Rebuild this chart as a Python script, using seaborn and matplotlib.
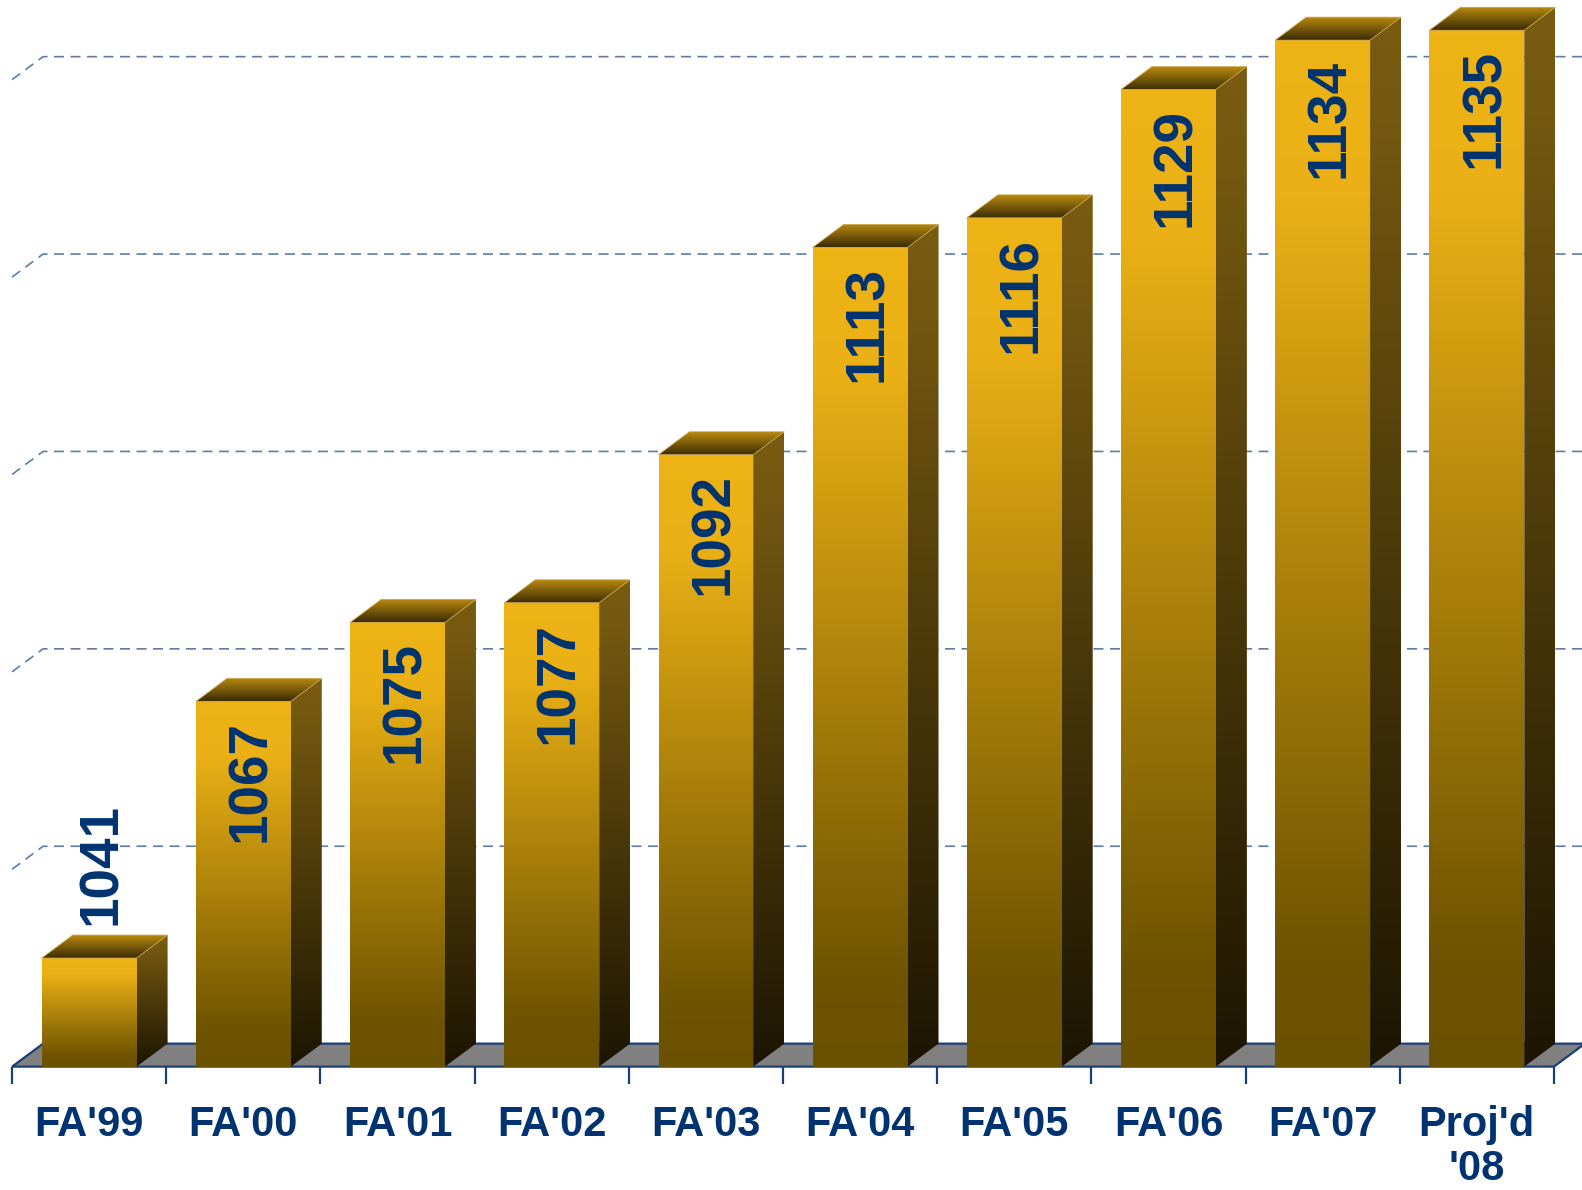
"""
Enrollment by fall term, drawn as pseudo-3D gold bars.
"""

import matplotlib.pyplot as plt
import numpy as np
import seaborn as sns
from matplotlib.colors import LinearSegmentedColormap
from matplotlib.patches import Polygon

categories = ["FA'99", "FA'00", "FA'01", "FA'02", "FA'03",
              "FA'04", "FA'05", "FA'06", "FA'07", "Proj'd\n'08"]
enrollment = [1041, 1067, 1075, 1077, 1092, 1113, 1116, 1129, 1134, 1135]
grid_values = [1050, 1070, 1090, 1110, 1130]
BASE = 1030

NAVY = "#003370"
AXIS_NAVY = "#1B3F78"
GRID = "#5F7CA8"
BAR_W = 0.615
DX, DY = 0.201, 2.33  # depth offset of the 3D box (x in categories, y in value units)

front_cmap = LinearSegmentedColormap.from_list(
    "front", [(0, "#6A5100"), (0.1, "#6E5300"), (0.85, "#EAB015"), (1, "#EEB416")])
side_cmap = LinearSegmentedColormap.from_list("side", [(0, "#1C1502"), (0.9, "#745810"), (1, "#795B10")])
top_cmap = LinearSegmentedColormap.from_list("top", ["#3B2C05", "#B8890F"])
ramp = np.linspace(0, 1, 256).reshape(-1, 1)


def gradient(ax, clip, x0, x1, y0, y1, cmap, z):
    im = ax.imshow(ramp, extent=[x0, x1, y0, y1], origin="lower", aspect="auto",
                   cmap=cmap, interpolation="bilinear", zorder=z)
    im.set_clip_path(clip)


sns.set_style("white")
plt.rcParams["font.family"] = ["Liberation Sans", "DejaVu Sans"]

fig = plt.figure(figsize=(15.82, 11.90), dpi=100)
ax = fig.add_axes([0, 0, 1, 1])

heights = np.array(enrollment) - BASE
sns.barplot(x=categories, y=heights, width=BAR_W, color="#6A5100", saturation=1,
            edgecolor="none", ax=ax, zorder=3)

# floor
n = len(categories)
floor = Polygon([(-0.5, 0), (n - 0.5, 0), (n - 0.5 + DX, DY), (-0.5 + DX, DY)],
                closed=True, facecolor="#808080", edgecolor=AXIS_NAVY, linewidth=1.6, zorder=1.5)
ax.add_patch(floor)
for k in range(n + 1):
    ax.plot([k - 0.5, k - 0.5], [0, -1.8], color=AXIS_NAVY, linewidth=1.6, zorder=2,
            solid_capstyle="butt")

# dashed gridlines on the back wall, with the short slanted piece on the left
for g in grid_values:
    y = g - BASE
    ax.plot([-0.5, -0.5 + DX, n - 0.5 + DX + 0.5], [y, y + DY, y + DY], color=GRID,
            linewidth=1.2, dashes=(6, 3.9), zorder=1)

# faces of each bar
for i, (bar, h) in enumerate(zip(ax.patches, heights)):
    x0 = bar.get_x()
    x1 = x0 + bar.get_width()
    gradient(ax, bar, x0, x1, 0, h, front_cmap, 3.1)

    side = Polygon([(x1, 0), (x1 + DX, DY), (x1 + DX, h + DY), (x1, h)], closed=True,
                   facecolor="none", edgecolor="none", zorder=3.2)
    ax.add_patch(side)
    gradient(ax, side, x1, x1 + DX, 0, h + DY, side_cmap, 3.1)

    top = Polygon([(x0, h), (x1, h), (x1 + DX, h + DY), (x0 + DX, h + DY)], closed=True,
                  facecolor="none", edgecolor="#C9A54A", linewidth=0.6, zorder=3.3)
    ax.add_patch(top)
    gradient(ax, top, x0, x1 + DX, h, h + DY, top_cmap, 3.1)

    if h < 15:
        ax.text(i + 0.08, h + DY + 1.0, str(enrollment[i]), rotation=90, ha="center",
                va="bottom", fontsize=39.5, fontweight="bold", color=NAVY, zorder=5)
    else:
        ax.text(i + 0.05, h - 1.9, str(enrollment[i]), rotation=90, ha="center",
                va="top", fontsize=39.5, fontweight="bold", color=NAVY, zorder=5)

for i, label in enumerate(categories):
    ax.text(i, -3.85, label, ha="center", va="top", fontsize=30, fontweight="bold",
            color=NAVY, linespacing=1.15)

ax.set_xlim(-0.5785, 9.682)
ax.set_ylim(-12.5, 108.07)
ax.axis("off")

plt.savefig("out.png", dpi=100)
plt.close()
